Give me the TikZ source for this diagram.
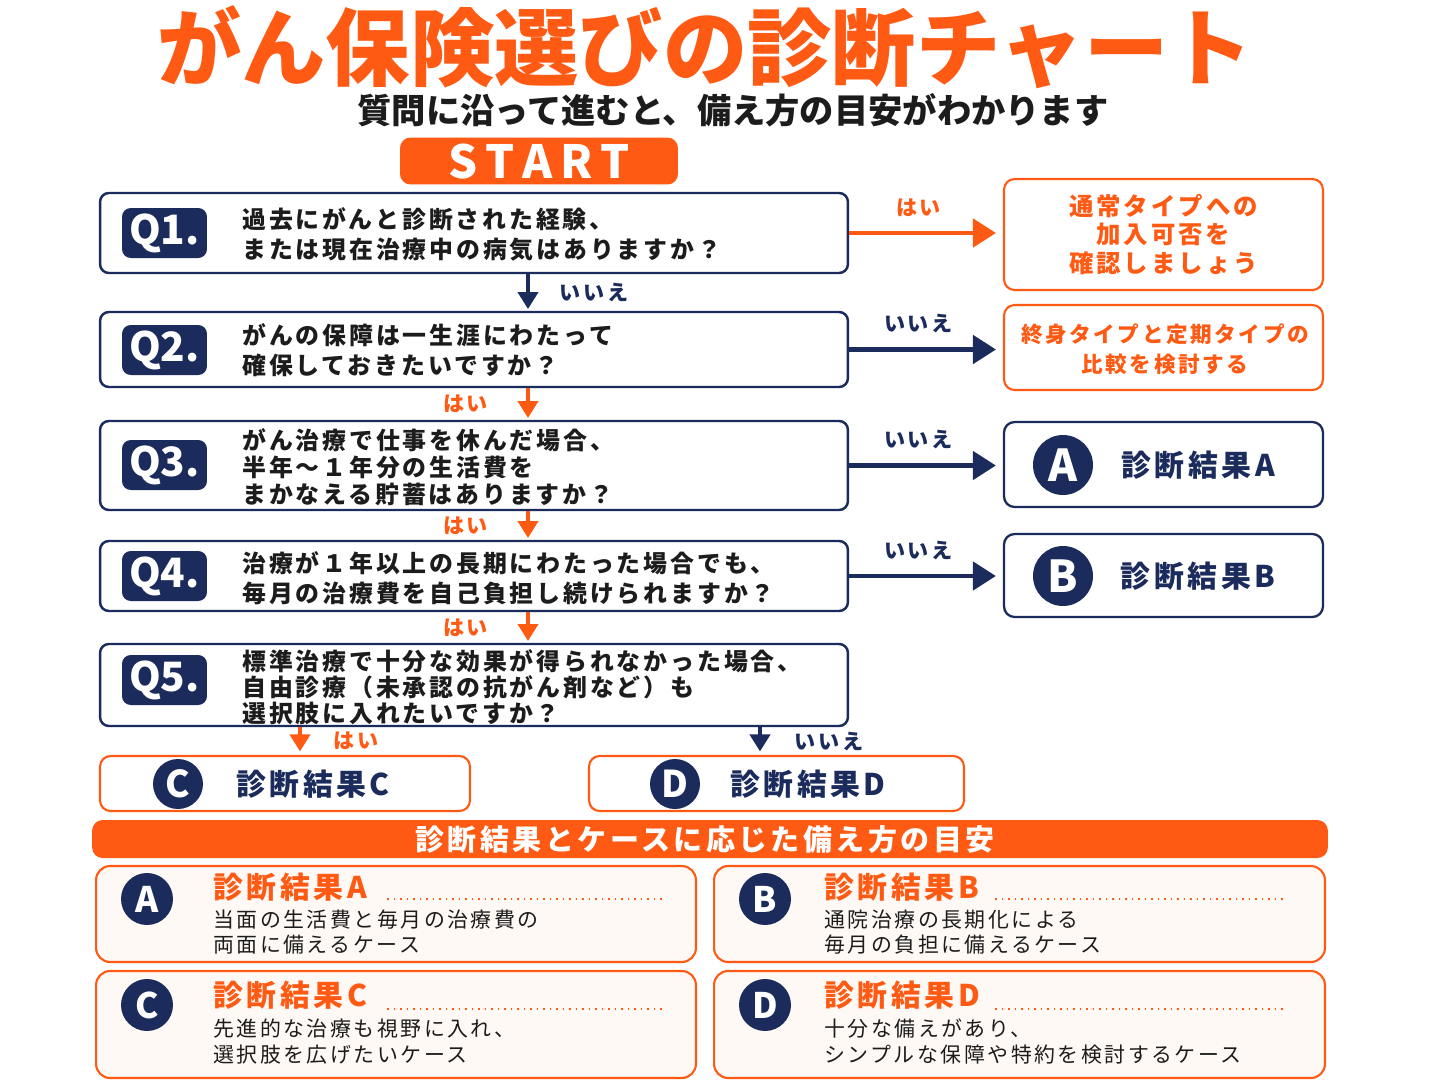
\documentclass[tikz,border=0pt]{standalone}
\usepackage{fontspec}
\usetikzlibrary{arrows.meta}
\setmainfont{Noto Sans CJK JP}
\newfontfamily\jp{Noto Sans CJK JP}[LetterSpace=12]
\definecolor{orng}{HTML}{FF5A14}
\definecolor{navy}{HTML}{1A2B5C}
\definecolor{ink}{HTML}{1C1C1C}
\definecolor{paper}{HTML}{FFF9F5}
\tikzset{
	qbox/.style={draw=navy, line width=1.4pt, rounded corners=5pt, fill=white, minimum width=14.96cm},
	qtag/.style={fill=navy, rounded corners=5pt, text=white, minimum width=1.7cm, minimum height=1cm, inner sep=0pt, font=\bfseries\fontsize{23pt}{23pt}\selectfont},
	qtext/.style={anchor=west, align=left, inner sep=0pt, text=ink, font=\jp\bfseries\fontsize{13.6pt}{17pt}\selectfont},
	obox/.style={draw=orng, line width=1.2pt, rounded corners=6pt, fill=white},
	nbox/.style={draw=navy, line width=1.3pt, rounded corners=6pt, fill=white},
	otext/.style={align=center, text=orng, inner sep=0pt},
	dot/.style={circle, fill=navy, text=white, inner sep=0pt, font=\bfseries\fontsize{25pt}{25pt}\selectfont},
	restext/.style={text=navy, inner sep=0pt, font=\jp\bfseries\fontsize{17pt}{17pt}\selectfont},
	yesarrow/.style={orng, line width=2.7pt, -{Triangle[length=0.46cm, width=0.56cm]}},
	noarrow/.style={navy, line width=2.7pt, -{Triangle[length=0.46cm, width=0.56cm]}},
	yesdown/.style={orng, line width=2.2pt, -{Triangle[length=0.34cm, width=0.4cm]}},
	nodown/.style={navy, line width=2.2pt, -{Triangle[length=0.34cm, width=0.4cm]}},
	yeslab/.style={text=orng, inner sep=0pt, font=\jp\bfseries\fontsize{12pt}{12pt}\selectfont},
	nolab/.style={text=navy, inner sep=0pt, font=\jp\bfseries\fontsize{12pt}{12pt}\selectfont},
	card/.style={draw=orng, line width=1.2pt, rounded corners=8pt, fill=paper},
	cdot/.style={circle, fill=navy, text=white, minimum size=1.04cm, inner sep=0pt, font=\bfseries\fontsize{20pt}{20pt}\selectfont},
	chead/.style={anchor=west, text=orng, inner sep=0pt, font=\jp\bfseries\fontsize{17pt}{17pt}\selectfont},
	cbody/.style={anchor=west, align=left, text=ink, inner sep=0pt, font=\jp\fontsize{11.9pt}{14.2pt}\selectfont},
	dotline/.style={orng, line width=1.1pt, dash pattern=on 1.1pt off 2.6pt}
}
\begin{document}
\begin{tikzpicture}[x=0.02cm, y=-0.02cm]
	\useasboundingbox (0,0) rectangle (1448,1086);
	\fill[white] (0,0) rectangle (1448,1086);

	\node[text=orng, font=\bfseries\fontsize{48pt}{50pt}\selectfont] (title) at (705,47) {がん保険選びの診断チャート};
	\node[text=ink, font=\bfseries\fontsize{19.5pt}{22pt}\selectfont] (sub) at (733,110) {質問に沿って進むと、備え方の目安がわかります};
	\node[fill=orng, rounded corners=6pt, minimum width=5.56cm, minimum height=0.92cm, text=white, font=\bfseries\fontsize{26pt}{26pt}\selectfont] (start) at (539,161) {S\,T\,A\,R\,T};

	\node[qbox, minimum height=1.6cm] (q1) at (474,233) {};
	\node[qbox, minimum height=1.5cm] (q2) at (474,349.5) {};
	\node[qbox, minimum height=1.78cm] (q3) at (474,465.5) {};
	\node[qbox, minimum height=1.4cm] (q4) at (474,576) {};
	\node[qbox, minimum height=1.64cm] (q5) at (474,685) {};

	\node[qtag] (t1) at (164.5,233) {Q1.};
	\node[qtag] (t2) at (164.5,350) {Q2.};
	\node[qtag] (t3) at (164.5,465) {Q3.};
	\node[qtag] (t4) at (164.5,576) {Q4.};
	\node[qtag] (t5) at (164.5,680) {Q5.};

	\node[qtext] (x1) at (242,234) {過去にがんと診断された経験、\\または現在治療中の病気はありますか？};
	\node[qtext] (x2) at (242,350) {がんの保障は一生涯にわたって\\確保しておきたいですか？};
	\node[qtext, font=\jp\bfseries\fontsize{13.6pt}{15.5pt}\selectfont] (x3) at (242,467) {がん治療で仕事を休んだ場合、\\半年～１年分の生活費を\\まかなえる貯蓄はありますか？};
	\node[qtext] (x4) at (242,578) {治療が１年以上の長期にわたった場合でも、\\毎月の治療費を自己負担し続けられますか？};
	\node[qtext, font=\jp\bfseries\fontsize{13.6pt}{14.8pt}\selectfont] (x5) at (242,687) {標準治療で十分な効果が得られなかった場合、\\自由診療（未承認の抗がん剤など）も\\選択肢に入れたいですか？};

	\node[obox, minimum width=6.38cm, minimum height=2.22cm] (r1) at (1163.5,234.5) {};
	\node[otext, font=\jp\bfseries\fontsize{13.9pt}{16.4pt}\selectfont] at (r1) {通常タイプへの\\加入可否を\\確認しましょう};
	\node[obox, minimum width=6.38cm, minimum height=1.7cm] (r2) at (1163.5,347.5) {};
	\node[otext, font=\jp\bfseries\fontsize{12.3pt}{17pt}\selectfont] at (1165,349) {終身タイプと定期タイプの\\比較を検討する};

	\node[nbox, minimum width=6.38cm, minimum height=1.7cm] (ra) at (1163.5,464.5) {};
	\node[dot, minimum size=1.2cm] (ca) at (1063,465) {A};
	\node[restext] at (1198,465) {診断結果A};
	\node[nbox, minimum width=6.38cm, minimum height=1.66cm] (rb) at (1163.5,575.5) {};
	\node[dot, minimum size=1.2cm] (cb) at (1063,576) {B};
	\node[restext] at (1198,576) {診断結果B};

	\node[obox, minimum width=7.4cm, minimum height=1.1cm] (rc) at (285,783.5) {};
	\node[dot, minimum size=1cm, font=\bfseries\fontsize{21pt}{21pt}\selectfont] (cc) at (178,784) {C};
	\node[restext] at (313,784) {診断結果C};
	\node[obox, minimum width=7.5cm, minimum height=1.1cm] (rd) at (776.5,783.5) {};
	\node[dot, minimum size=1cm, font=\bfseries\fontsize{21pt}{21pt}\selectfont] (cd) at (675,784) {D};
	\node[restext] at (808,784) {診断結果D};

	\coordinate (spine) at (528,0);
	\coordinate (cx) at (300,0);
	\coordinate (dx) at (760,0);
	\draw[nodown, shorten >=1pt] (q1.south -| spine) -- (q2.north -| spine) node[midway, right=0.6cm, nolab] {いいえ};
	\draw[yesdown, shorten >=1pt] (q2.south -| spine) -- (q3.north -| spine) node[midway, left=0.76cm, yeslab] {はい};
	\draw[yesdown, shorten >=1pt] (q3.south -| spine) -- (q4.north -| spine) node[midway, left=0.76cm, yeslab] {はい};
	\draw[yesdown, shorten >=1pt] (q4.south -| spine) -- (q5.north -| spine) node[midway, left=0.76cm, yeslab] {はい};
	\draw[yesdown, shorten >=2pt] (q5.south -| cx) -- (rc.north -| cx) node[midway, right=0.64cm, yeslab] {はい};
	\draw[nodown, shorten >=2pt] (q5.south -| dx) -- (rd.north -| dx) node[midway, right=0.66cm, nolab] {いいえ};

	\draw[yesarrow, shorten >=0.14cm] (q1.east) -- (q1.east -| r1.west) node[pos=0.45, above=0.28cm, yeslab] {はい};
	\draw[noarrow, shorten >=0.14cm] (q2.east) -- (q2.east -| r2.west) node[pos=0.45, above=0.28cm, nolab] {いいえ};
	\draw[noarrow, shorten >=0.14cm] (q3.east) -- (q3.east -| ra.west) node[pos=0.45, above=0.28cm, nolab] {いいえ};
	\draw[noarrow, shorten >=0.14cm] (q4.east) -- (q4.east -| rb.west) node[pos=0.45, above=0.28cm, nolab] {いいえ};

	\node[fill=orng, rounded corners=6pt, minimum width=24.72cm, minimum height=0.76cm] (band) at (710,839) {};
	\node[text=white, inner sep=0pt, font=\jp\bfseries\fontsize{16.5pt}{17pt}\selectfont] at (705,840) {診断結果とケースに応じた備え方の目安};

	\node[card, minimum width=12cm, minimum height=1.92cm] (ka) at (396,914) {};
	\node[cdot] (da) at (147,899) {A};
	\node[chead] (ha) at (213,887) {診断結果A};
	\draw[dotline] (387,899) -- (664,899);
	\node[cbody] (ba) at (213,932.5) {当面の生活費と毎月の治療費の\\両面に備えるケース};

	\node[card, minimum width=12.22cm, minimum height=1.92cm] (kb) at (1019.5,914) {};
	\node[cdot] (db) at (765,899) {B};
	\node[chead] (hb) at (824,887) {診断結果B};
	\draw[dotline] (995,899) -- (1285,899);
	\node[cbody] (bb) at (824,932.5) {通院治療の長期化による\\毎月の負担に備えるケース};

	\node[card, minimum width=12cm, minimum height=2.14cm] (kc) at (396,1024.5) {};
	\node[cdot] (dc) at (147,1005) {C};
	\node[chead] (hc) at (213,995) {診断結果C};
	\draw[dotline] (387,1009) -- (664,1009);
	\node[cbody, font=\jp\fontsize{11.9pt}{15.3pt}\selectfont] (bc) at (213,1041.5) {先進的な治療も視野に入れ、\\選択肢を広げたいケース};

	\node[card, minimum width=12.22cm, minimum height=2.14cm] (kd) at (1019.5,1024.5) {};
	\node[cdot] (dd) at (765,1005) {D};
	\node[chead] (hd) at (824,995) {診断結果D};
	\draw[dotline] (995,1009) -- (1285,1009);
	\node[cbody, font=\jp\fontsize{11.9pt}{15.3pt}\selectfont] (bd) at (824,1041.5) {十分な備えがあり、\\シンプルな保障や特約を検討するケース};
\end{tikzpicture}
\end{document}
